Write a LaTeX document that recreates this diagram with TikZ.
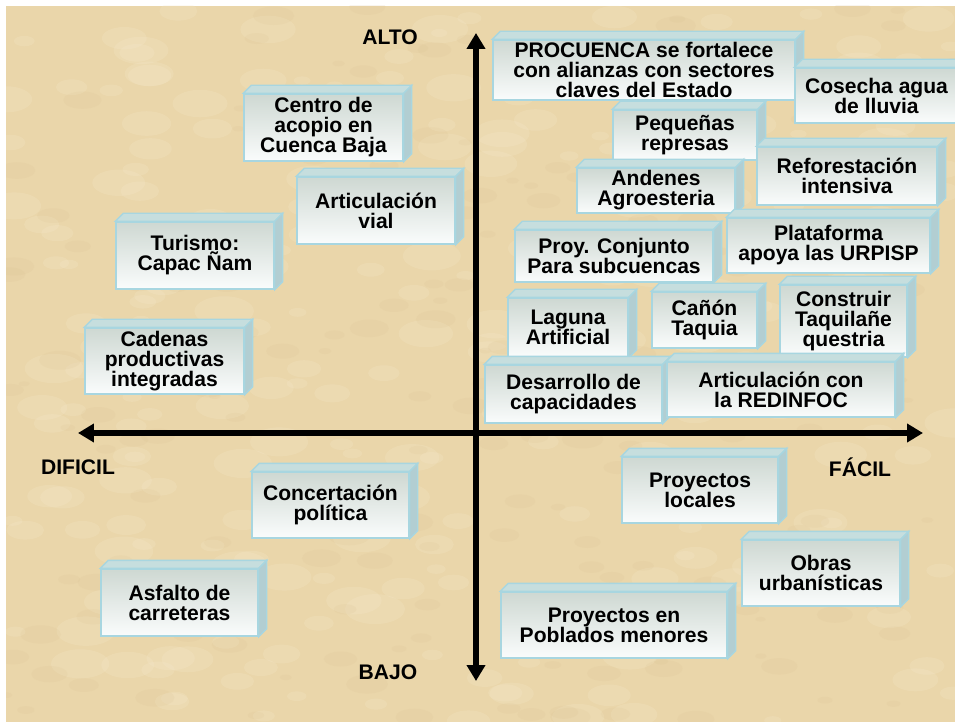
\documentclass[tikz,border=0pt]{standalone}
\usepackage{fontspec}
\setmainfont{Liberation Sans}
\usetikzlibrary{arrows.meta}
\definecolor{pergamino}{RGB}{234,214,170}
\definecolor{manchaclara}{RGB}{246,234,206}
\definecolor{manchaoscura}{RGB}{216,190,142}
\definecolor{cajaborde}{RGB}{168,214,224}
\definecolor{cajaarriba}{RGB}{206,216,210}
\definecolor{cajaabajo}{RGB}{250,252,252}
\definecolor{cajatope}{RGB}{198,222,222}
\definecolor{cajalado}{RGB}{178,206,210}
\newcommand{\cajafont}{\bfseries\fontsize{12}{11.4}\selectfont}
\newcommand{\ejefont}{\bfseries\fontsize{12}{14}\selectfont}
\tikzset{
  frente/.style={draw=cajaborde, line width=0.8pt, top color=cajaarriba, bottom color=cajaabajo,
    inner sep=0pt, align=center, font=\cajafont},
  cara/.style={draw=cajaborde, line width=0.8pt},
  eje/.style={line width=3.2pt, {Triangle[length=0.32cm,width=0.36cm]}-{Triangle[length=0.32cm,width=0.36cm]}},
  etiqueta/.style={font=\ejefont, inner sep=1pt},
  pics/caja/.style n args={3}{
    code={
      \node[frente, minimum width=#1*0.02cm, minimum height=#2*0.02cm] (-f) {#3};
      \fill[cara, fill=cajatope] (-f.north west) -- ++(8,-8) -- ([shift={(8,-8)}]-f.north east) -- (-f.north east) -- cycle;
      \fill[cara, fill=cajalado] (-f.north east) -- ++(8,-8) -- ([shift={(8,-8)}]-f.south east) -- (-f.south east) -- cycle;
    }
  }
}

\begin{document}
\begin{tikzpicture}[x=0.02cm, y=-0.02cm]
  \useasboundingbox (0,0) rectangle (955,722);
  \fill[white] (0,0) rectangle (955,722);

  % fondo de pergamino
  \begin{scope}
    \clip (6,6) rectangle (955,722);
    \fill[pergamino] (6,6) rectangle (955,722);
    \pgfmathsetseed{7}
    \foreach \i in {1,...,260} {
      \pgfmathsetmacro{\cx}{6+949*rnd}
      \pgfmathsetmacro{\cy}{6+716*rnd}
      \pgfmathsetmacro{\rx}{8+22*rnd}
      \fill[manchaclara, opacity=0.22] (\cx,\cy) ellipse ({\rx} and {0.5*\rx});
    }
    \foreach \i in {1,...,200} {
      \pgfmathsetmacro{\cx}{6+949*rnd}
      \pgfmathsetmacro{\cy}{6+716*rnd}
      \pgfmathsetmacro{\rx}{5+16*rnd}
      \fill[manchaoscura, opacity=0.14] (\cx,\cy) ellipse ({\rx} and {0.45*\rx});
    }
  \end{scope}

  % cuadrante izquierdo
  \pic (centro) at (323.5,127.5) {caja={159}{67}{Centro de\\acopio en\\Cuenca Baja}};
  \pic (artvial) at (376,210.5) {caja={158}{67}{Articulación\\vial}};
  \pic (turismo) at (195,255.5) {caja={158}{67}{Turismo:\\Capac Ñam}};
  \pic (cadenas) at (164.5,361) {caja={159}{66}{Cadenas\\productivas\\integradas}};
  \pic (concert) at (330.5,505) {caja={157}{66}{Concertación\\política}};
  \pic (asfalto) at (179.5,602.5) {caja={157}{67}{Asfalto de\\carreteras}};

  % cuadrante derecho
  \pic (procuenca) at (644,70) {caja={302}{60}{PROCUENCA se fortalece\\con alianzas con sectores\\claves del Estado}};
  \pic (cosecha) at (876.5,95.5) {caja={163}{55}{Cosecha agua\\de lluvia}};
  \pic (represas) at (685,135) {caja={144}{50}{Pequeñas\\represas}};
  \pic (andenes) at (656,190.5) {caja={158}{45}{Andenes\\Agroesteria}};
  \pic (refor) at (847,176) {caja={180}{58}{Reforestación\\intensiva}};
  \pic (proy) at (614,256) {caja={198}{52}{Proy. Conjunto\\Para subcuencas}};
  \pic (plataf) at (828.5,245.5) {caja={203}{55}{Plataforma\\apoya las URPISP}};
  \pic (laguna) at (568,327.5) {caja={120}{59}{Laguna\\Artificial}};
  \pic (canon) at (704.5,320) {caja={105}{56}{Cañón\\Taquia}};
  \pic (construir) at (843.5,321) {caja={127}{72}{Construir\\Taquilañe\\questria}};
  \pic (desarrollo) at (573.5,394) {caja={177}{58}{Desarrollo de\\capacidades}};
  \pic (artred) at (781,389.5) {caja={228}{55}{Articulación con\\la REDINFOC}};
  \pic (locales) at (700,490) {caja={156}{66}{Proyectos\\locales}};
  \pic (obras) at (821,573) {caja={158}{66}{Obras\\urbanísticas}};
  \pic (poblados) at (614,625) {caja={226}{66}{Proyectos en\\Poblados menores}};

  % ejes
  \coordinate (arriba) at (476,33);
  \coordinate (abajo) at (476,681);
  \coordinate (izquierda) at (78,433);
  \coordinate (derecha) at (923,433);
  \draw[eje] (abajo) -- (arriba);
  \draw[eje] (izquierda) -- (derecha);

  \node[etiqueta] (alto) at (390,37) {ALTO};
  \node[etiqueta] (bajo) at (388,672) {BAJO};
  \node[etiqueta] (dificil) at (78,467) {DIFICIL};
  \node[etiqueta] (facil) at (860,467) {FÁCIL};
\end{tikzpicture}
\end{document}
